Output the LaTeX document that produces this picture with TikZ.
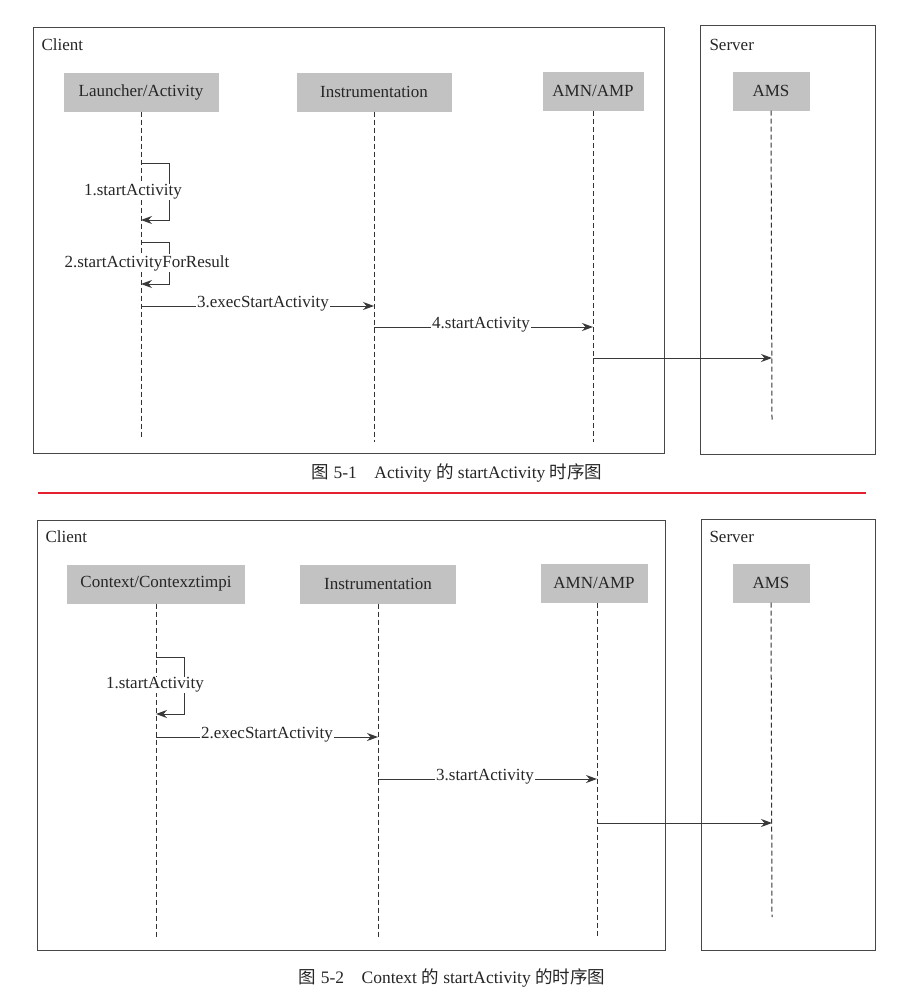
\documentclass[tikz,border=0pt]{standalone}
\usepackage{fontspec}
\setmainfont{Liberation Serif}
\newfontfamily\cjk{Noto Sans CJK SC}
\usetikzlibrary{arrows.meta}
\begin{document}
\begin{tikzpicture}[x=1pt,y=-1pt,
  every node/.style={font=\fontsize{17}{20}\selectfont},
  frame/.style={draw=black!72,line width=1pt},
  actor/.style={fill=black!24,minimum height=39pt,inner sep=0pt,text=black!85},
  life/.style={draw=black!80,line width=1pt,dash pattern=on 5pt off 3pt},
  msg/.style={draw=black!78,line width=1pt,-{Stealth[length=11pt,width=8pt]}},
  lbl/.style={fill=white,inner sep=1pt,text=black!85},
  figcap/.style={font=\fontsize{17.5}{20}\selectfont,text=black!85}]
\useasboundingbox (0,0) rectangle (903,998);
\fill[white] (0,0) rectangle (903,998);

% ===== Figure 5-1 =====
\draw[frame] (33,28) rectangle (664,453);
\draw[frame] (700,26) rectangle (875,454);
\node[anchor=west,text=black!85] (c1) at (38,45) {Client};
\node[anchor=west,text=black!85] (s1) at (706,45) {Server};

\node[actor,minimum width=155pt] (la) at (141,92) {Launcher/Activity};
\node[actor,minimum width=155pt] (in1) at (374,92) {Instrumentation};
\node[actor,minimum width=101pt] (am1) at (593,91) {AMN/AMP};
\node[actor,minimum width=77pt] (ams1) at (771,91) {AMS};

\coordinate (laE) at (141,437);
\coordinate (in1E) at (374,442);
\coordinate (am1E) at (593,442);
\coordinate (ams1E) at (772,420);
\draw[life] (la.south) -- (laE);
\draw[life] (in1.south) -- (in1E);
\draw[life] (am1.south) -- (am1E);
\draw[life] (ams1.south) -- (ams1E);

\coordinate (a1) at (141,163); \coordinate (a1b) at (141,220);
\draw[msg] (a1) -- ++(28,0) |- (a1b);
\node[lbl] (t1) at (133,192) {1.startActivity};
\coordinate (a2) at (141,242); \coordinate (a2b) at (141,284);
\draw[msg] (a2) -- ++(28,0) |- (a2b);
\node[lbl] (t2) at (147,263) {2.startActivityForResult};
\coordinate (a3) at (141,306); \coordinate (a3b) at (374,306);
\draw[msg] (a3) -- (a3b);
\node[lbl] (t3) at (263,304) {3.execStartActivity};
\coordinate (a4) at (374,327); \coordinate (a4b) at (593,327);
\draw[msg] (a4) -- (a4b);
\node[lbl] (t4) at (481,325) {4.startActivity};
\coordinate (a5) at (593,358); \coordinate (a5b) at (772,358);
\draw[msg] (a5) -- (a5b);

\node[figcap] (cap1) at (457,473) {{\cjk 图} 5-1\quad Activity {\cjk 的} startActivity {\cjk 时序图}};

\coordinate (rl1) at (38,493); \coordinate (rl2) at (866,493);
\draw[draw={rgb,255:red,228;green,32;blue,48},line width=2pt] (rl1) -- (rl2);

% ===== Figure 5-2 =====
\draw[frame] (37,520) rectangle (665,950);
\draw[frame] (701,519) rectangle (875,950);
\node[anchor=west,text=black!85] (c2) at (42,537) {Client};
\node[anchor=west,text=black!85] (s2) at (706,537) {Server};

\node[actor,minimum width=178pt] (cx) at (156,584) {Context/Contexztimpi};
\node[actor,minimum width=156pt] (in2) at (378,584) {Instrumentation};
\node[actor,minimum width=107pt] (am2) at (594,583) {AMN/AMP};
\node[actor,minimum width=77pt] (ams2) at (771,583) {AMS};

\coordinate (cxE) at (156,938);
\coordinate (in2E) at (378,938);
\coordinate (am2E) at (597,938);
\coordinate (ams2E) at (772,917);
\draw[life] (cx.south) -- (cxE);
\draw[life] (in2.south) -- (in2E);
\draw[life] ([xshift=3pt]am2.south) -- (am2E);
\draw[life] (ams2.south) -- (ams2E);

\coordinate (b1) at (156,657); \coordinate (b1b) at (156,714);
\draw[msg] (b1) -- ++(28,0) |- (b1b);
\node[lbl] (u1) at (155,685) {1.startActivity};
\coordinate (b2) at (156,737); \coordinate (b2b) at (378,737);
\draw[msg] (b2) -- (b2b);
\node[lbl] (u2) at (267,735) {2.execStartActivity};
\coordinate (b3) at (378,779); \coordinate (b3b) at (597,779);
\draw[msg] (b3) -- (b3b);
\node[lbl] (u3) at (485,777) {3.startActivity};
\coordinate (b4) at (597,823); \coordinate (b4b) at (772,823);
\draw[msg] (b4) -- (b4b);

\node[figcap] (cap2) at (452,978) {{\cjk 图} 5-2\quad Context {\cjk 的} startActivity {\cjk 的时序图}};
\end{tikzpicture}
\end{document}
